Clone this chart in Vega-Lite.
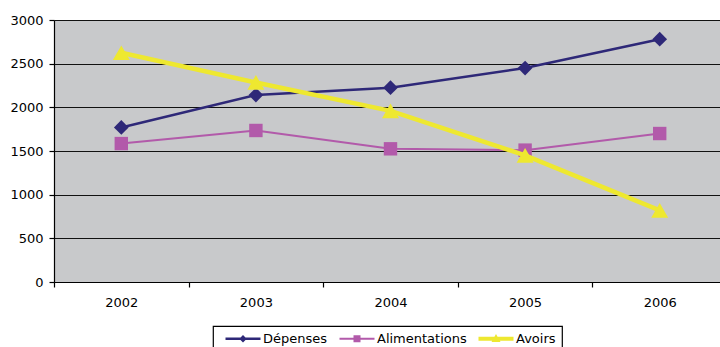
{
  "$schema": "https://vega.github.io/schema/vega-lite/v6.json",
  "autosize": {"type": "none"},
  "padding": {"left": 54, "top": 20, "right": 0, "bottom": 65},
  "width": 666,
  "height": 262,
  "background": "white",
  "data": {
    "values": [
      {"annee": 2002, "serie": "Dépenses", "valeur": 1770},
      {"annee": 2003, "serie": "Dépenses", "valeur": 2140},
      {"annee": 2004, "serie": "Dépenses", "valeur": 2225},
      {"annee": 2005, "serie": "Dépenses", "valeur": 2450},
      {"annee": 2006, "serie": "Dépenses", "valeur": 2780},
      {"annee": 2002, "serie": "Alimentations", "valeur": 1585},
      {"annee": 2003, "serie": "Alimentations", "valeur": 1735},
      {"annee": 2004, "serie": "Alimentations", "valeur": 1525},
      {"annee": 2005, "serie": "Alimentations", "valeur": 1510},
      {"annee": 2006, "serie": "Alimentations", "valeur": 1700},
      {"annee": 2002, "serie": "Avoirs", "valeur": 2625},
      {"annee": 2003, "serie": "Avoirs", "valeur": 2285},
      {"annee": 2004, "serie": "Avoirs", "valeur": 1960},
      {"annee": 2005, "serie": "Avoirs", "valeur": 1450},
      {"annee": 2006, "serie": "Avoirs", "valeur": 820}
    ]
  },
  "encoding": {
    "x": {
      "field": "annee",
      "type": "quantitative",
      "scale": {"domain": [2001.5, 2006.448], "nice": false, "zero": false},
      "axis": {
        "title": null,
        "values": [2001.5, 2002.5, 2003.5, 2004.5, 2005.5],
        "labelExpr": "format(datum.value + 0.5, 'd')",
        "labelOffset": 67.3,
        "labelFlush": false,
        "labelOverlap": false,
        "grid": false,
        "tickSize": 5,
        "labelPadding": 9
      }
    },
    "y": {
      "field": "valeur",
      "type": "quantitative",
      "scale": {"domain": [0, 3000], "nice": false},
      "axis": {
        "title": null,
        "values": [0, 500, 1000, 1500, 2000, 2500, 3000],
        "format": "d",
        "tickSize": 5,
        "labelPadding": 6,
        "grid": true
      }
    },
    "color": {
      "field": "serie",
      "type": "nominal",
      "scale": {
        "domain": ["Dépenses", "Alimentations", "Avoirs"],
        "range": ["#2E2878", "#B25AAA", "#EEE830"]
      },
      "legend": {
        "title": null,
        "orient": "none",
        "legendX": 159,
        "legendY": 306,
        "direction": "horizontal",
        "padding": 6,
        "columnPadding": 5,
        "labelOffset": 31,
        "symbolSize": 100,
        "symbolStrokeWidth": 0,
        "strokeColor": "black",
        "fillColor": "white",
        "encode": {
          "symbols": {
            "update": {
              "shape": {"signal": "datum.value === 'Dépenses' ? 'M0,-0.25L7,-0.25L7,0.25L0,0.25ZM3.5,-0.75L4.25,0L3.5,0.75L2.75,0Z' : datum.value === 'Alimentations' ? 'M0,-0.2L7,-0.2L7,0.2L0,0.2ZM2.8,-0.7L4.2,-0.7L4.2,0.7L2.8,0.7Z' : 'M0,-0.4L7,-0.4L7,0.4L0,0.4ZM3.5,-0.95L4.4,0.65L2.6,0.65Z'"},
              "size": {"value": 100},
              "fill": {"scale": "color", "field": "value"},
              "strokeWidth": {"value": 0},
              "opacity": {"value": 1}
            }
          }
        }
      }
    }
  },
  "layer": [
    {
      "transform": [{"filter": "datum.serie === 'Dépenses'"}],
      "mark": {"type": "line", "strokeWidth": 2.5, "point": {"shape": "diamond", "size": 216, "filled": true, "opacity": 1}}
    },
    {
      "transform": [{"filter": "datum.serie === 'Alimentations'"}],
      "mark": {"type": "line", "strokeWidth": 2, "point": {"shape": "square", "size": 180, "filled": true, "opacity": 1}}
    },
    {
      "transform": [{"filter": "datum.serie === 'Avoirs'"}],
      "mark": {"type": "line", "strokeWidth": 4.5, "point": {"shape": "triangle-up", "size": 289, "filled": true, "opacity": 1}}
    }
  ],
  "config": {
    "view": {"fill": "#C8C9CB", "stroke": null},
    "font": "DejaVu Sans",
    "axis": {
      "labelFont": "DejaVu Sans",
      "labelFontSize": 13,
      "labelColor": "black",
      "domainColor": "black",
      "domainWidth": 1.2,
      "tickColor": "black",
      "tickWidth": 1.2,
      "gridColor": "#111111",
      "gridWidth": 1.2,
      "gridOpacity": 1
    },
    "legend": {
      "labelFont": "DejaVu Sans",
      "labelFontSize": 13,
      "labelColor": "black",
      "strokeWidth": 1.2
    }
  }
}
